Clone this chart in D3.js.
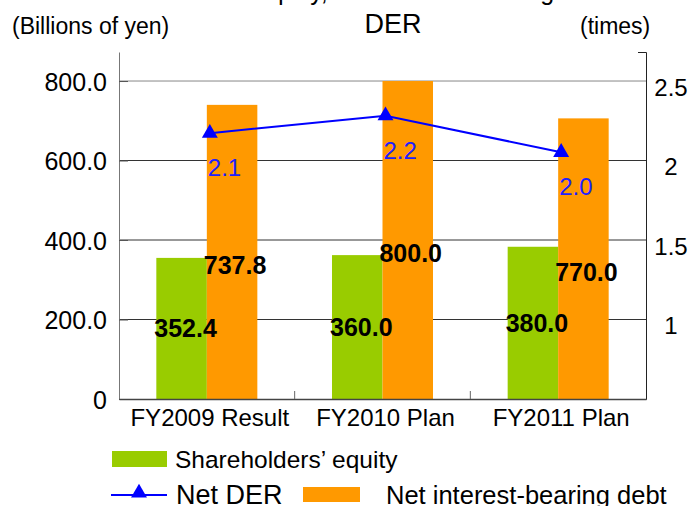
<!DOCTYPE html>
<html lang="en">
	<head>
		<meta charset="utf-8">
		<title>Shareholders' equity, net interest-bearing debt and net DER</title>
		<script src="https://d3js.org/d3.v7.min.js"></script>
		<style type="text/css">
			body { margin: 0; background: #fff; }
			text { font-family: "Liberation Sans", Arial, sans-serif; }
		</style>
	</head>
	<body>
		<script type="text/javascript">
			//Width and height
			var w = 695;
			var h = 506;

			//Data
			var categories = ["FY2009 Result", "FY2010 Plan", "FY2011 Plan"];
			var equityValues = [355, 362, 383];
			var equityLabels = ["352.4", "360.0", "380.0"];
			var debtValues = [740, 800, 706];
			var debtLabels = ["737.8", "800.0", "770.0"];
			var derValues = [2.17, 2.28, 2.05];
			var derLabels = ["2.1", "2.2", "2.0"];
			var leftTicks = [0, 200, 400, 600, 800];
			var rightTicks = [1, 1.5, 2, 2.5];
			var seriesNames = ["Shareholders\u2019 equity", "Net DER", "Net interest-bearing debt"];

			var green = "#99cc00";
			var orange = "#ff9900";
			var blue = "#0000ff";

			//plot area edges
			var pLeft = 119, pRight = 646, pTop = 52, pBottom = 399;

			var x = d3.scaleBand()
				.domain(categories)
				.range([pLeft, pRight])
				.paddingInner(0.425)
				.paddingOuter(0.2125);

			var x1 = d3.scaleBand()
				.domain(["equity", "debt"])
				.range([0, x.bandwidth()]);

			var y = d3.scaleLinear().domain([0, 873]).range([pBottom, pTop]);
			var y2 = d3.scaleLinear().domain([0.5, 2.68]).range([pBottom, pTop]);

			var svg = d3.select("body")
				.append("svg")
				.attr("width", w)
				.attr("height", h);

			//title (first line is cut off at the top)
			svg.append("text")
				.attr("x", 400).attr("y", 0)
				.attr("text-anchor", "middle")
				.style("font-size", "25px")
				.text("Shareholders\u2019 equity, Net interest-bearing debt and Net");
			svg.append("text")
				.attr("x", 393).attr("y", 33)
				.attr("text-anchor", "middle")
				.style("font-size", "27px")
				.text("DER");

			svg.append("text")
				.attr("x", 12).attr("y", 34)
				.style("font-size", "23px")
				.text("(Billions of yen)");
			svg.append("text")
				.attr("x", 580).attr("y", 34)
				.style("font-size", "23px")
				.text("(times)");

			//gridlines
			svg.append("g")
				.selectAll("line")
				.data(leftTicks.slice(1))
				.enter()
				.append("line")
				.attr("x1", pLeft).attr("x2", pRight)
				.attr("y1", function(d) { return y(d); })
				.attr("y2", function(d) { return y(d); })
				.style("stroke", function(d) { return d == 800 ? "#888" : "#333"; })
				.style("stroke-width", 1);

			//bars
			var groups = svg.selectAll(".grp")
				.data(categories)
				.enter()
				.append("g")
				.attr("transform", function(d) { return "translate(" + x(d) + ",0)"; });

			groups.append("rect")
				.attr("x", x1("equity"))
				.attr("width", x1.bandwidth())
				.attr("y", function(d, i) { return y(equityValues[i]); })
				.attr("height", function(d, i) { return pBottom - y(equityValues[i]); })
				.style("fill", green);

			groups.append("rect")
				.attr("x", x1("debt"))
				.attr("width", x1.bandwidth())
				.attr("y", function(d, i) { return y(debtValues[i]); })
				.attr("height", function(d, i) { return pBottom - y(debtValues[i]); })
				.style("fill", orange);

			//left axis
			var leftAxis = svg.append("g")
				.attr("transform", "translate(" + pLeft + ",0)")
				.call(d3.axisLeft(y)
					.tickValues(leftTicks)
					.tickSize(-9)
					.tickSizeOuter(0)
					.tickPadding(12)
					.tickFormat(function(d) { return d == 0 ? "0" : d3.format(".1f")(d); }));
			leftAxis.select(".domain").style("stroke", "#777");
			leftAxis.selectAll(".tick line").style("stroke", "#555");
			leftAxis.selectAll("text")
				.style("font-size", "25px")
				.style("fill", "#000")
				.attr("dy", "0.36em");

			//right axis
			var rightAxis = svg.append("g")
				.attr("transform", "translate(" + pRight + ",0)")
				.call(d3.axisLeft(y2).tickValues([]).tickSizeOuter(8));
			rightAxis.select(".domain").style("stroke", "#222");

			var rightLabels = svg.append("g")
				.attr("transform", "translate(" + pRight + ",0)")
				.call(d3.axisRight(y2)
					.tickValues(rightTicks)
					.tickSize(0)
					.tickPadding(25)
					.tickFormat(function(d) { return String(d); }));
			rightLabels.select(".domain").remove();
			rightLabels.selectAll("text")
				.attr("text-anchor", "middle")
				.attr("dy", "0.6em")
				.style("font-size", "24px")
				.style("fill", "#000");

			//bottom axis
			var bottomAxis = svg.append("g")
				.attr("transform", "translate(0," + pBottom + ")")
				.call(d3.axisBottom(x).tickSize(0).tickSizeOuter(0).tickPadding(10));
			bottomAxis.select(".domain").style("stroke", "#444").style("stroke-width", 1.5);
			bottomAxis.selectAll("text")
				.attr("dx", 3)
				.style("font-size", "24px")
				.style("fill", "#000");

			//category separators
			svg.append("g")
				.selectAll("line")
				.data(categories.slice(1))
				.enter()
				.append("line")
				.attr("x1", function(d) { return x(d) - (x.step() - x.bandwidth()) / 2; })
				.attr("x2", function(d) { return x(d) - (x.step() - x.bandwidth()) / 2; })
				.attr("y1", pBottom)
				.attr("y2", pBottom - 8)
				.style("stroke", "#666");

			//bar labels
			groups.append("text")
				.attr("x", x1("equity") + x1.bandwidth() / 2 + 4)
				.attr("y", function(d, i) { return (y(equityValues[i]) + pBottom) / 2 + 9; })
				.attr("text-anchor", "middle")
				.style("font-size", "25px")
				.style("font-weight", "bold")
				.text(function(d, i) { return equityLabels[i]; });

			groups.append("text")
				.attr("x", x1("debt") + x1.bandwidth() / 2 + 3)
				.attr("y", function(d, i) { return (y(debtValues[i]) + pBottom) / 2 + 22; })
				.attr("text-anchor", "middle")
				.style("font-size", "25px")
				.style("font-weight", "bold")
				.text(function(d, i) { return debtLabels[i]; });

			//DER line
			var cx = function(d, i) { return x(categories[i]) + x.bandwidth() / 2 + 3; };
			var line = d3.line()
				.x(cx)
				.y(function(d) { return y2(d); });

			svg.append("path")
				.datum(derValues)
				.attr("d", line)
				.style("fill", "none")
				.style("stroke", blue)
				.style("stroke-width", 2);

			svg.selectAll(".mark")
				.data(derValues)
				.enter()
				.append("path")
				.attr("d", d3.symbol().type(d3.symbolTriangle).size(110))
				.attr("transform", function(d, i) { return "translate(" + cx(d, i) + "," + y2(d) + ")"; })
				.style("fill", blue);

			svg.selectAll(".derlab")
				.data(derValues)
				.enter()
				.append("text")
				.attr("x", function(d, i) { return cx(d, i) - 2; })
				.attr("y", function(d) { return y2(d) + 43; })
				.style("font-size", "24px")
				.style("fill", "#2020ff")
				.text(function(d, i) { return derLabels[i]; });

			//legend
			var legend = svg.append("g");
			legend.append("rect")
				.attr("x", 112).attr("y", 451).attr("width", 55).attr("height", 16)
				.style("fill", green);
			legend.append("text")
				.attr("x", 175).attr("y", 468)
				.style("font-size", "24.5px")
				.text(seriesNames[0]);

			legend.append("line")
				.attr("x1", 111).attr("x2", 167).attr("y1", 495).attr("y2", 495)
				.style("stroke", blue).style("stroke-width", 2);
			legend.append("path")
				.attr("d", d3.symbol().type(d3.symbolTriangle).size(110))
				.attr("transform", "translate(139,493)")
				.style("fill", blue);
			legend.append("text")
				.attr("x", 176).attr("y", 504)
				.style("font-size", "27px")
				.text(seriesNames[1]);

			legend.append("rect")
				.attr("x", 303).attr("y", 487).attr("width", 57).attr("height", 15)
				.style("fill", orange);
			legend.append("text")
				.attr("x", 386).attr("y", 504)
				.style("font-size", "25.5px")
				.text(seriesNames[2]);
		</script>
	</body>
</html>
